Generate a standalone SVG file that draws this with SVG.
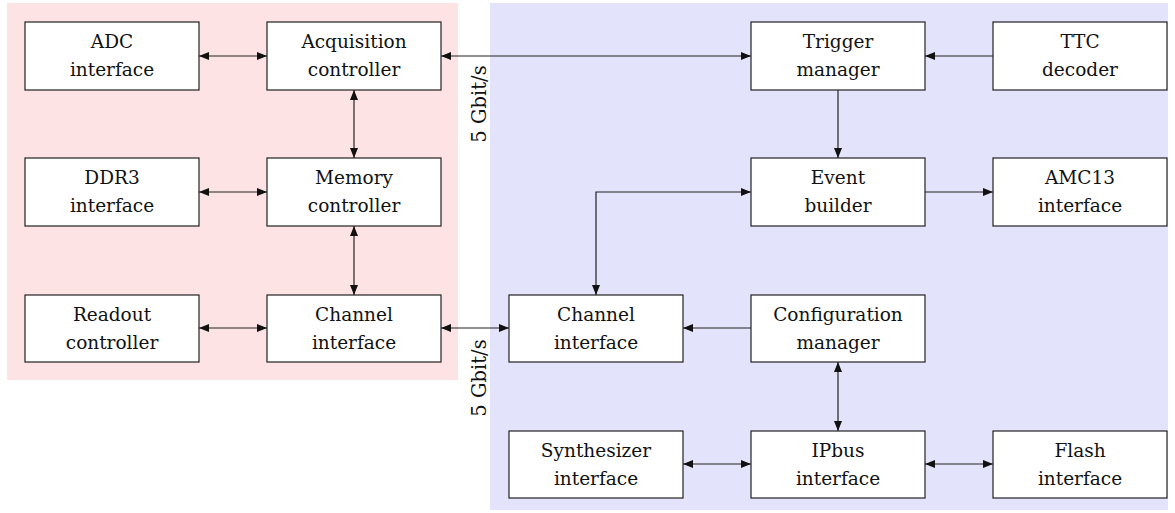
<svg xmlns="http://www.w3.org/2000/svg" width="1175" height="513" viewBox="0 0 1175 513">
  <style>
    .box { fill: #ffffff; stroke: #222; stroke-width: 1.2; }
    text { font-family: 'DejaVu Serif', 'Liberation Serif', serif; fill: #111; text-anchor: middle; }
    .lbl { font-size: 18.5px; }
    .rate { font-size: 19.5px; }
    .wire { fill: none; stroke: #222; stroke-width: 1.2; }
  </style>
  <defs>
    <marker id="tip" viewBox="0 0 10 8" refX="10" refY="4" markerWidth="10" markerHeight="8" markerUnits="userSpaceOnUse" orient="auto-start-reverse">
      <path d="M0,0 L10,4 L0,8 Z" fill="#111"/>
    </marker>
  </defs>

  <!-- FPGA regions -->
  <rect x="7" y="3" width="451" height="377" fill="#fde3e3"/>
  <rect x="490" y="3" width="678" height="507" fill="#e3e3fb"/>

  <!-- connectors -->
  <g id="connectors">
    <line class="wire" x1="199" y1="56" x2="267" y2="56" marker-start="url(#tip)" marker-end="url(#tip)"/>
    <line class="wire" x1="441" y1="56" x2="751" y2="56" marker-start="url(#tip)" marker-end="url(#tip)"/>
    <line class="wire" x1="993" y1="56" x2="925" y2="56" marker-end="url(#tip)"/>
    <line class="wire" x1="354" y1="90" x2="354" y2="158" marker-start="url(#tip)" marker-end="url(#tip)"/>
    <line class="wire" x1="838" y1="90" x2="838" y2="158" marker-end="url(#tip)"/>
    <line class="wire" x1="199" y1="192" x2="267" y2="192" marker-start="url(#tip)" marker-end="url(#tip)"/>
    <line class="wire" x1="925" y1="192" x2="993" y2="192" marker-end="url(#tip)"/>
    <polyline class="wire" points="596,295 596,192 751,192" marker-start="url(#tip)" marker-end="url(#tip)"/>
    <line class="wire" x1="354" y1="226" x2="354" y2="295" marker-start="url(#tip)" marker-end="url(#tip)"/>
    <line class="wire" x1="199" y1="328" x2="267" y2="328" marker-start="url(#tip)" marker-end="url(#tip)"/>
    <line class="wire" x1="441" y1="328" x2="509" y2="328" marker-start="url(#tip)" marker-end="url(#tip)"/>
    <line class="wire" x1="751" y1="328" x2="683" y2="328" marker-end="url(#tip)"/>
    <line class="wire" x1="838" y1="362" x2="838" y2="431" marker-start="url(#tip)" marker-end="url(#tip)"/>
    <line class="wire" x1="683" y1="464" x2="751" y2="464" marker-start="url(#tip)" marker-end="url(#tip)"/>
    <line class="wire" x1="925" y1="464" x2="993" y2="464" marker-start="url(#tip)" marker-end="url(#tip)"/>
    <text class="rate" transform="translate(486,104) rotate(-90)">5 Gbit/s</text>
    <text class="rate" transform="translate(486,378) rotate(-90)">5 Gbit/s</text>
  </g>

  <!-- row 1 -->
  <g id="adc-interface">
    <rect class="box" x="25" y="22" width="174" height="68"/>
    <text class="lbl" x="112" y="47.5">ADC</text>
    <text class="lbl" x="112" y="75.5">interface</text>
  </g>
  <g id="acquisition-controller">
    <rect class="box" x="267" y="22" width="174" height="68"/>
    <text class="lbl" x="354" y="47.5">Acquisition</text>
    <text class="lbl" x="354" y="75.5">controller</text>
  </g>
  <g id="trigger-manager">
    <rect class="box" x="751" y="22" width="174" height="68"/>
    <text class="lbl" x="838" y="47.5">Trigger</text>
    <text class="lbl" x="838" y="75.5">manager</text>
  </g>
  <g id="ttc-decoder">
    <rect class="box" x="993" y="22" width="174" height="68"/>
    <text class="lbl" x="1080" y="47.5">TTC</text>
    <text class="lbl" x="1080" y="75.5">decoder</text>
  </g>

  <!-- row 2 -->
  <g id="ddr3-interface">
    <rect class="box" x="25" y="158" width="174" height="68"/>
    <text class="lbl" x="112" y="183.5">DDR3</text>
    <text class="lbl" x="112" y="211.5">interface</text>
  </g>
  <g id="memory-controller">
    <rect class="box" x="267" y="158" width="174" height="68"/>
    <text class="lbl" x="354" y="183.5">Memory</text>
    <text class="lbl" x="354" y="211.5">controller</text>
  </g>
  <g id="event-builder">
    <rect class="box" x="751" y="158" width="174" height="68"/>
    <text class="lbl" x="838" y="183.5">Event</text>
    <text class="lbl" x="838" y="211.5">builder</text>
  </g>
  <g id="amc13-interface">
    <rect class="box" x="993" y="158" width="174" height="68"/>
    <text class="lbl" x="1080" y="183.5">AMC13</text>
    <text class="lbl" x="1080" y="211.5">interface</text>
  </g>

  <!-- row 3 -->
  <g id="readout-controller">
    <rect class="box" x="25" y="295" width="174" height="67"/>
    <text class="lbl" x="112" y="321">Readout</text>
    <text class="lbl" x="112" y="349">controller</text>
  </g>
  <g id="channel-interface-a">
    <rect class="box" x="267" y="295" width="174" height="67"/>
    <text class="lbl" x="354" y="321">Channel</text>
    <text class="lbl" x="354" y="349">interface</text>
  </g>
  <g id="channel-interface-b">
    <rect class="box" x="509" y="295" width="174" height="67"/>
    <text class="lbl" x="596" y="321">Channel</text>
    <text class="lbl" x="596" y="349">interface</text>
  </g>
  <g id="configuration-manager">
    <rect class="box" x="751" y="295" width="174" height="67"/>
    <text class="lbl" x="838" y="321">Configuration</text>
    <text class="lbl" x="838" y="349">manager</text>
  </g>

  <!-- row 4 -->
  <g id="synthesizer-interface">
    <rect class="box" x="509" y="431" width="174" height="67"/>
    <text class="lbl" x="596" y="457">Synthesizer</text>
    <text class="lbl" x="596" y="485">interface</text>
  </g>
  <g id="ipbus-interface">
    <rect class="box" x="751" y="431" width="174" height="67"/>
    <text class="lbl" x="838" y="457">IPbus</text>
    <text class="lbl" x="838" y="485">interface</text>
  </g>
  <g id="flash-interface">
    <rect class="box" x="993" y="431" width="174" height="67"/>
    <text class="lbl" x="1080" y="457">Flash</text>
    <text class="lbl" x="1080" y="485">interface</text>
  </g>
</svg>
